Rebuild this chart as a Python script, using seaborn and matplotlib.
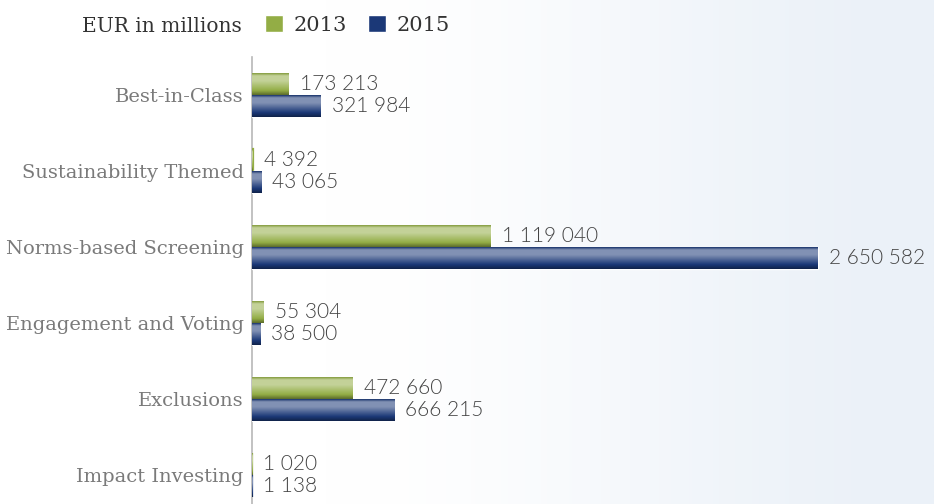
import numpy as np
import pandas as pd
import matplotlib
matplotlib.use("Agg")
import matplotlib.pyplot as plt
import matplotlib.colors as mcolors
import seaborn as sns

# Assets by sustainable investment strategy, EUR in millions
categories = ["Best-in-Class", "Sustainability Themed", "Norms-based Screening",
              "Engagement and Voting", "Exclusions", "Impact Investing"]
years = ["2013", "2015"]
values_2013 = [173213, 4392, 1119040, 55304, 472660, 1020]
values_2015 = [321984, 43065, 2650582, 38500, 666215, 1138]

df = pd.DataFrame({
    "strategy": categories * 2,
    "year": [years[0]] * len(categories) + [years[1]] * len(categories),
    "value": values_2013 + values_2015,
})

GREEN = "#93ad45"
BLUE = "#1b3877"
palette = {years[0]: GREEN, years[1]: BLUE}

sns.set_theme(style="white")
plt.rcParams["font.family"] = ["DejaVu Serif"]

W, H = 934, 504
fig = plt.figure(figsize=(W / 100, H / 100), dpi=100)

# soft background wash, white on the left fading to pale blue on the right
bg = fig.add_axes([0, 0, 1, 1], zorder=-10)
xs = np.linspace(0, 1, 600)
t = np.clip((xs - 0.35) / 0.65, 0, 1)
t = t * t * (3 - 2 * t)
c0 = np.array(mcolors.to_rgb("#ffffff"))
c1 = np.array(mcolors.to_rgb("#ebf1f8"))
grad = (c0[None, :] * (1 - t[:, None]) + c1[None, :] * t[:, None])[None, :, :]
grad = np.repeat(grad, 4, axis=0)
bg.imshow(grad, aspect="auto", extent=[0, 1, 0, 1], interpolation="bilinear")
bg.set_axis_off()

ax_left = 252 / W
ax_top = 57 / H
ax = fig.add_axes([ax_left, 0, 1 - ax_left, 1 - ax_top])
ax.patch.set_alpha(0)

sns.barplot(data=df, y="strategy", x="value", hue="year", palette=palette,
            order=categories, hue_order=years, width=0.57, orient="h",
            saturation=1, ax=ax, legend=True)

vmax = max(values_2015)
ax.set_xlim(0, vmax * (W - 252) / (818 - 252))
ax.set_ylim(5 + (504 - 475) / 76, -(95 - 57) / 76)

# vertical gloss on each bar
def shade(base):
    b = np.array(mcolors.to_rgb(base))
    light = b + (1 - b) * 0.45
    dark = b * 0.62
    stops = np.linspace(0, 1, 64)
    col = np.empty((64, 3))
    for i, s in enumerate(stops):
        if s < 0.12:
            col[i] = b * (1 - s / 0.12) * 0.9 + light * (s / 0.12)
        elif s < 0.35:
            col[i] = light
        elif s < 0.8:
            k = (s - 0.35) / 0.45
            col[i] = light * (1 - k) + b * k
        else:
            k = (s - 0.8) / 0.2
            col[i] = b * (1 - k) + dark * k
    return np.clip(col, 0, 1)

px_per_unit = ax.transData.transform((1, 0))[0] - ax.transData.transform((0, 0))[0]

for cont, yr in zip(ax.containers, years):
    img = shade(palette[yr])[:, None, :]
    for patch in cont.patches:
        patch.set_zorder(3)
        x0, y0 = patch.get_x(), patch.get_y()
        w, h = patch.get_width(), patch.get_height()
        if w * px_per_unit < 3:
            # very small values still get a visible sliver over the axis line
            patch.set_edgecolor(palette[yr])
            patch.set_linewidth(1.6)
        im = ax.imshow(img, aspect="auto", extent=[x0, x0 + w, y0 + h, y0],
                       zorder=3.1, interpolation="bilinear")
        im.set_clip_path(patch)
    ax.bar_label(cont, labels=[f"{int(v):,}".replace(",", " ") for v in cont.datavalues],
                 padding=8, fontsize=15, color="#444444",
                 family=["Lato"], fontweight=300)

ax.set_xlabel("")
ax.set_ylabel("")
ax.set_xticks([])
ax.tick_params(axis="y", length=0, pad=6, labelsize=14, labelcolor="#7a7a7a")
for s in ["top", "right", "bottom"]:
    ax.spines[s].set_visible(False)
ax.spines["left"].set_color("#b8b8b8")
ax.spines["left"].set_linewidth(1.2)
ax.spines["left"].set_zorder(1)

sns.move_legend(ax, loc="center left", bbox_to_anchor=(265 / W, 1 - 25 / H),
                bbox_transform=fig.transFigure, ncol=2, frameon=False, title=None,
                handlelength=0.87, handleheight=0.87, handletextpad=0.5,
                columnspacing=1.0, fontsize=15, borderpad=0, borderaxespad=0)
for txt in ax.get_legend().get_texts():
    txt.set_color("#333333")

fig.text(242 / W, 1 - 27 / H, "EUR in millions", ha="right", va="center",
         fontsize=14.5, color="#333333")

fig.savefig("out.png", dpi=100)
